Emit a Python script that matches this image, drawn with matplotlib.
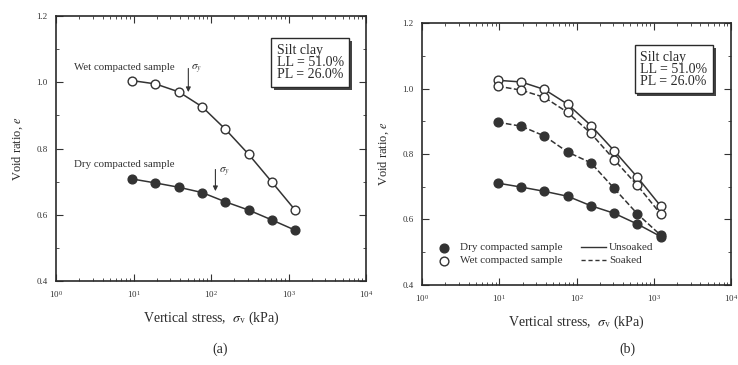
import matplotlib
matplotlib.use("Agg")
import matplotlib.pyplot as plt
from matplotlib.ticker import MultipleLocator, LogLocator, NullFormatter, FormatStrFormatter
from matplotlib import patheffects as pe

plt.rcParams['font.family'] = ['Liberation Serif', 'DejaVu Serif']
plt.rcParams['mathtext.fontset'] = 'stix'

# Data
stress = [9.6, 19.2, 38.4, 76.8, 153.6, 307.2, 614.4, 1228.8]
a_wet = [1.005, 0.995, 0.971, 0.926, 0.858, 0.782, 0.698, 0.613]
a_dry = [0.708, 0.696, 0.683, 0.667, 0.639, 0.614, 0.584, 0.553]
b_wet_unsoaked = [1.025, 1.020, 0.997, 0.952, 0.887, 0.810, 0.729, 0.641]
b_wet_soaked = [1.007, 0.995, 0.973, 0.927, 0.863, 0.783, 0.704, 0.617]
b_dry_soaked = [0.897, 0.885, 0.855, 0.806, 0.773, 0.695, 0.617, 0.552]
b_dry_unsoaked = [0.711, 0.699, 0.686, 0.671, 0.642, 0.619, 0.586, 0.548]
soil_text = "Silt clay\nLL = 51.0%\nPL = 26.0%"

W, H = 738, 365
fig = plt.figure(figsize=(W / 100, H / 100), dpi=100)
INK = '#2a2a2a'

def ax_at(l, t, r, b):
    return fig.add_axes([l / W, 1 - b / H, (r - l) / W, (b - t) / H])

axa = ax_at(56, 16, 366, 281)
axb = ax_at(422, 23, 731, 285)

def style(ax):
    ax.set_xscale('log')
    ax.set_xlim(1, 1e4)
    ax.set_ylim(0.4, 1.2)
    ax.yaxis.set_major_locator(MultipleLocator(0.2))
    ax.yaxis.set_minor_locator(MultipleLocator(0.1))
    ax.xaxis.set_major_locator(LogLocator(base=10, numticks=10))
    ax.xaxis.set_minor_locator(LogLocator(base=10, subs=range(2, 10), numticks=20))
    ax.xaxis.set_minor_formatter(NullFormatter())
    ax.tick_params(which='both', direction='in', top=True, right=True,
                   labelsize=6.5, colors='#333333', pad=6)
    ax.tick_params(which='major', length=5, width=0.8)
    ax.tick_params(which='minor', length=2.5, width=0.6)
    for s in ax.spines.values():
        s.set_linewidth(1.2)
        s.set_color(INK)
    ax.set_xlabel(r'Vertical stress,  $\sigma_{\mathrm{v}}$ (kPa)', fontsize=10, color=INK, labelpad=7)
    ax.set_ylabel(r'Void ratio, $e$', fontsize=9, color=INK, labelpad=8)
    ax.yaxis.set_major_formatter(FormatStrFormatter('%.1f'))

def soil_box(ax, x, y):
    t = ax.text(x, y, soil_text, transform=ax.transAxes, fontsize=10, va='top', ha='left',
                linespacing=0.92, color=INK, zorder=5,
                bbox=dict(boxstyle='square,pad=0.4', fc='white', ec=INK, lw=1.0))
    t.get_bbox_patch().set_path_effects([
        pe.SimplePatchShadow(offset=(2, -2), shadow_rgbFace='#444444', alpha=1.0),
        pe.Normal()])
    return t

style(axa)
style(axb)

mk = dict(ms=6.3, mew=1.0, color='#333333', lw=1.1)
# Panel (a)
axa.plot(stress, a_wet, 'o-', mfc='white', mec='#333333', **mk)
axa.plot(stress, a_dry, 'o-', mfc='#333333', mec='#333333', **mk)
axa.text(1.7, 1.045, 'Wet compacted sample', fontsize=7.8, va='center', color='#333333')
axa.text(1.7, 0.752, 'Dry compacted sample', fontsize=7.8, va='center', color='#333333')
axa.annotate('', xy=(51, 0.962), xytext=(51, 1.05),
             arrowprops=dict(arrowstyle='-|>', color='#333333', lw=0.8, mutation_scale=7))
axa.text(56, 1.035, r'$\sigma_{y}$', fontsize=8, color='#333333')
axa.annotate('', xy=(114, 0.663), xytext=(114, 0.745),
             arrowprops=dict(arrowstyle='-|>', color='#333333', lw=0.8, mutation_scale=7))
axa.text(125, 0.725, r'$\sigma_{y}$', fontsize=8, color='#333333')
soil_box(axa, 0.712, 0.895)

# Panel (b)
axb.plot(stress, b_wet_unsoaked, 'o-', mfc='white', mec='#333333', **mk)
axb.plot(stress, b_wet_soaked, 'o--', mfc='white', mec='#333333', **mk)
axb.plot(stress, b_dry_soaked, 'o--', mfc='#333333', mec='#333333', **mk)
axb.plot(stress, b_dry_unsoaked, 'o-', mfc='#333333', mec='#333333', **mk)
soil_box(axb, 0.706, 0.895)

# legend (b)
axb.plot([1.9], [0.513], 'o', mfc='#333333', mec='#333333', ms=6.3, mew=1.0)
axb.plot([1.9], [0.474], 'o', mfc='white', mec='#333333', ms=6.3, mew=1.0)
axb.text(3.1, 0.513, 'Dry compacted sample', fontsize=8, va='center', color='#333333')
axb.text(3.1, 0.474, 'Wet compacted sample', fontsize=8, va='center', color='#333333')
axb.plot([113, 240], [0.515, 0.515], '-', color='#333333', lw=1.0)
axb.plot([113, 240], [0.476, 0.476], '--', color='#333333', lw=1.0, dashes=(3, 2))
axb.text(263, 0.513, 'Unsoaked', fontsize=8, va='center', color='#333333')
axb.text(263, 0.474, 'Soaked', fontsize=8, va='center', color='#333333')

fig.text(220 / W, 1 - 349 / H, '(a)', fontsize=10, ha='center', va='center', color=INK)
fig.text(627 / W, 1 - 349 / H, '(b)', fontsize=10, ha='center', va='center', color=INK)

fig.savefig('out.png', dpi=100, facecolor='white')
